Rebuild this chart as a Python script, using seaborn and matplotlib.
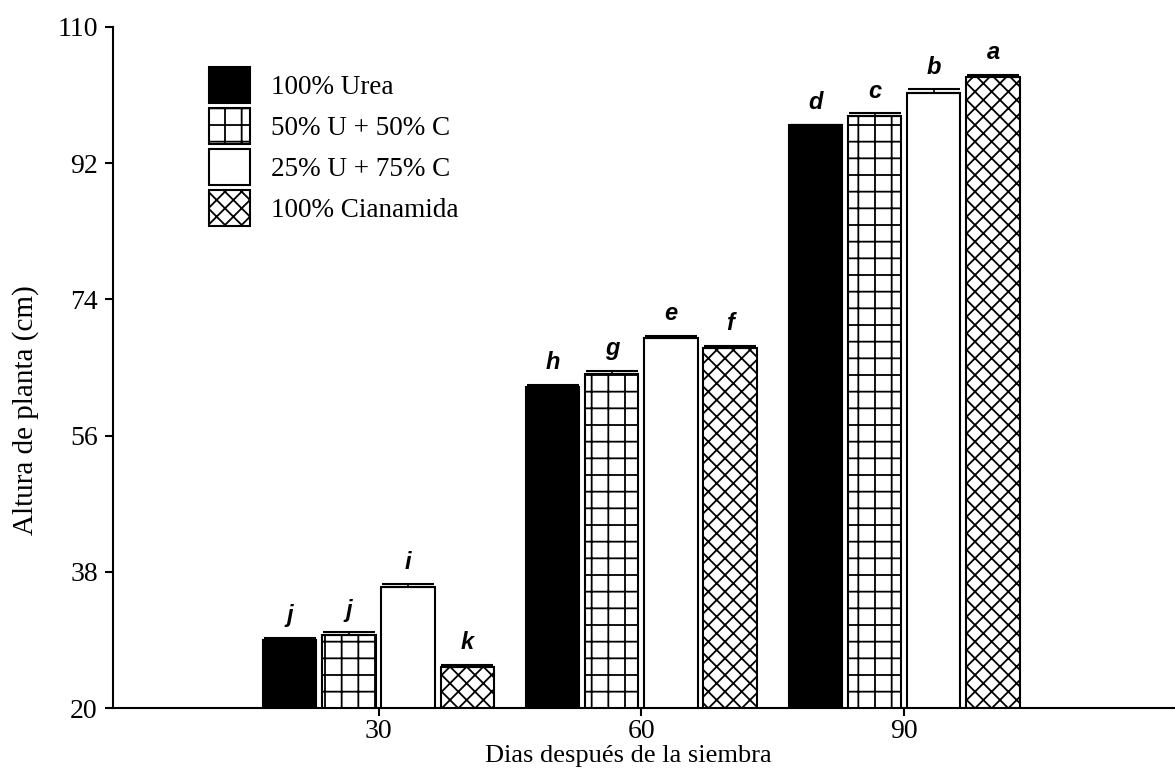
import matplotlib.pyplot as plt
from matplotlib.patches import Patch
import seaborn as sns
import pandas as pd

# data
days = ['30', '60', '90']
treatments = ['100% Urea', '50% U + 50% C', '25% U + 75% C', '100% Cianamida']
urea = [29.0, 62.4, 97.1]
u50_c50 = [29.7, 64.2, 98.3]
u25_c75 = [36.0, 68.9, 101.3]
cianamida = [25.4, 67.6, 103.4]
err_urea = [0.3, 0.3, 0.0]
err_u50 = [0.3, 0.35, 0.3]
err_u25 = [0.35, 0.3, 0.45]
err_cia = [0.3, 0.3, 0.3]
letters_urea = ['j', 'h', 'd']
letters_u50 = ['j', 'g', 'c']
letters_u25 = ['i', 'e', 'b']
letters_cia = ['k', 'f', 'a']
yticks = [20, 38, 56, 74, 92, 110]

series = [urea, u50_c50, u25_c75, cianamida]
errors = [err_urea, err_u50, err_u25, err_cia]
letters = [letters_urea, letters_u50, letters_u25, letters_cia]
colors = ['black', 'white', 'white', 'white']
hatches = ['', '+', '', 'xx']

rows = []
for t, vals in zip(treatments, series):
    for d, v in zip(days, vals):
        rows.append({'dias': d, 'altura': v, 'tratamiento': t})
df = pd.DataFrame(rows)

sns.set_style('ticks')
plt.rcParams['font.family'] = ['Liberation Serif', 'DejaVu Serif']
plt.rcParams['hatch.linewidth'] = 1.3
plt.rcParams['hatch.color'] = 'black'
plt.rcParams['text.color'] = 'black'
plt.rcParams['axes.labelcolor'] = 'black'
plt.rcParams['xtick.color'] = 'black'
plt.rcParams['ytick.color'] = 'black'
plt.rcParams['axes.edgecolor'] = 'black'

fig = plt.figure(figsize=(11.75, 7.7), dpi=100)
ax = fig.add_axes([113 / 1175, 62 / 770, 1062 / 1175, 681 / 770])

sns.barplot(data=df, x='dias', y='altura', hue='tratamiento',
            hue_order=treatments, palette=colors, width=0.9, gap=0.1,
            edgecolor='black', linewidth=1.5, errorbar=None,
            legend=False, ax=ax)

for cont, hatch, errs, labs in zip(ax.containers, hatches, errors, letters):
    xs, hs = [], []
    for bar in cont:
        bar.set_hatch(hatch)
        bar.set_edgecolor('black')
        xs.append(bar.get_x() + bar.get_width() / 2)
        hs.append(bar.get_height())
    ax.errorbar(xs, hs, yerr=[[0] * len(errs), errs], fmt='none',
                ecolor='black', elinewidth=1.2, capsize=19, capthick=1.5)
    for x, h, e, lab in zip(xs, hs, errs, labs):
        ax.text(x, h + e + 1.4, lab, ha='center', va='bottom',
                family='Liberation Sans', fontstyle='italic',
                fontweight='bold', fontsize=17, color='black')

ax.set_xlim(-1.01, 3.03)
ax.set_ylim(20, 110)
ax.set_yticks(yticks)
sns.despine(ax=ax)
for side in ['left', 'bottom']:
    ax.spines[side].set_linewidth(1.5)
ax.tick_params(direction='out', length=6, width=1.5, labelsize=20)
ax.tick_params(axis='x', pad=2)
ax.tick_params(axis='y', pad=5)
ax.set_xlabel('Dias después de la siembra', fontsize=19)
ax.xaxis.set_label_coords((628 - 113) / 1062, (708 - 745) / 681)
ax.set_ylabel('Altura de planta (cm)', fontsize=21)
ax.yaxis.set_label_coords((39 - 113) / 1062, (708 - 410) / 681)

handles = [Patch(facecolor=c, edgecolor='black', hatch=h, linewidth=1.5)
           for c, h in zip(colors, hatches)]
ax.legend(handles, treatments, loc='upper left',
          bbox_to_anchor=(96 / 1062, 1 - 40 / 681), frameon=False,
          fontsize=19.5, handlelength=1.5, handleheight=1.65,
          handletextpad=0.8, labelspacing=0.2, borderpad=0,
          borderaxespad=0)

fig.savefig('out.png', dpi=100)
